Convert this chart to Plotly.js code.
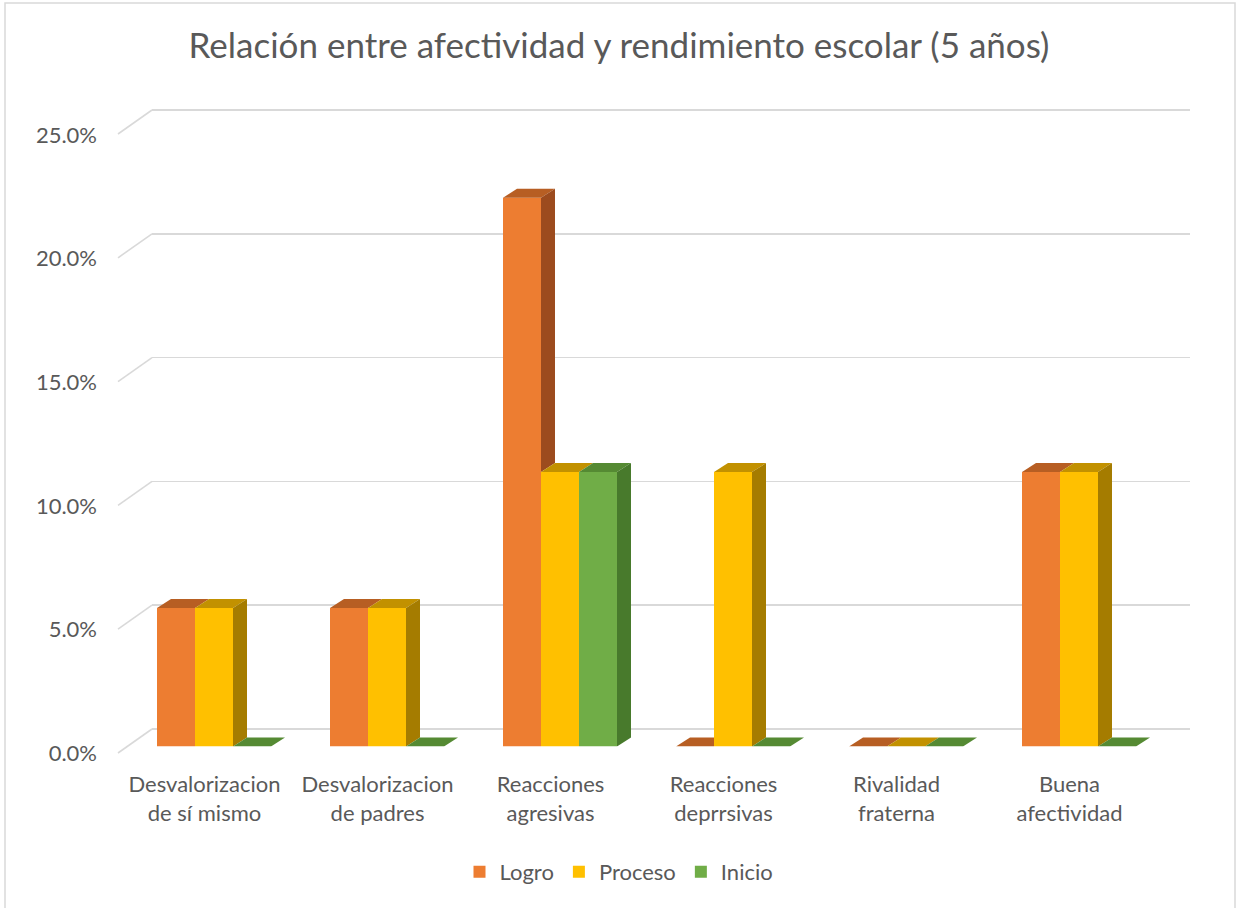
<!DOCTYPE html>
<html>
<head>
<meta charset="utf-8">
<script src="https://cdn.plot.ly/plotly-3.0.1.min.js"></script>
<style>html,body{margin:0;padding:0;background:#fff}#chart{width:1238px;height:908px}</style>
</head>
<body>
<div id="chart"></div>
<script>
// ---- data ----
const categories = ['Desvalorizacion<br>de sí mismo', 'Desvalorizacion<br>de padres', 'Reacciones<br>agresivas', 'Reacciones<br>deprrsivas', 'Rivalidad<br>fraterna', 'Buena<br>afectividad'];
const seriesNames = ['Logro', 'Proceso', 'Inicio'];
const logro = [5.6, 5.6, 22.2, 0, 0, 11.1];
const proceso = [5.6, 5.6, 11.1, 11.1, 0, 11.1];
const inicio = [0, 0, 11.1, 0, 0, 0];
const yTickVals = [0, 5, 10, 15, 20, 25];
const yTickText = ['0.0%', '5.0%', '10.0%', '15.0%', '20.0%', '25.0%'];

// ---- styles ----
const frontColors = ['#ED7D31', '#FFC000', '#70AD47'];
const topColors = ['#B75E23', '#C29100', '#558A33'];
const sideColors = ['#9C4B1E', '#A57C00', '#487A2C'];
const W = 1238, H = 908;
const px = x => x / W;
const py = y => 1 - y / H;
const textColor = '#595959';
const FONT = 'Lato, "Open Sans", sans-serif';

const values = [logro, proceso, inicio];
const barW = 38 / 173;          // bar width in category units
const dX = 14 / 173;            // depth offset x (category units)
const dY = 9 / 24.72;           // depth offset y (percent units)
const offsets = [-1.5 * barW, -0.5 * barW, 0.5 * barW];

const traces = [];
traces.push({type: 'scatter', x: [null], y: [null], xaxis: 'x', yaxis: 'y', showlegend: false, hoverinfo: 'skip'});
traces.push({type: 'scatter', x: categories, y: categories.map(() => null), xaxis: 'x2', yaxis: 'y2', showlegend: false, hoverinfo: 'skip'});
values.forEach((vals, k) => {
  traces.push({
    type: 'bar', name: seriesNames[k], x: categories, y: vals,
    xaxis: 'x3', yaxis: 'y3', width: barW, offset: offsets[k],
    marker: {color: frontColors[k], line: {width: 0}}
  });
});

const shapes = [];
shapes.push({type: 'rect', xref: 'paper', yref: 'paper', x0: px(5), x1: px(1235), y0: py(3), y1: py(912),
  line: {color: '#D9D9D9', width: 1.5}, fillcolor: 'rgba(0,0,0,0)', layer: 'below'});
// diagonal gridline segments (front plane -> back plane)
const diagY = 24 / 24.76;
yTickVals.forEach(t => {
  shapes.push({type: 'line', xref: 'paper', yref: 'y', x0: px(118), x1: px(152), y0: t - diagY, y1: t,
    line: {color: '#D9D9D9', width: 1.6}, layer: 'below'});
});
// 3D faces of bars
const poly = pts => 'M ' + pts.map(p => p[0] + ',' + p[1]).join(' L ') + ' Z';
categories.forEach((c, i) => {
  values.forEach((vals, k) => {
    const v = vals[i];
    const u = k < values.length - 1 ? values[k + 1][i] : 0;
    const x0 = i + offsets[k], x1 = x0 + barW;
    let topPts;
    if (k < values.length - 1 && u > v) {
      topPts = [[x0, v], [x1, v], [x1, v + dY], [x0 + dX, v + dY]];
    } else {
      topPts = [[x0, v], [x1, v], [x1 + dX, v + dY], [x0 + dX, v + dY]];
    }
    shapes.push({type: 'path', xref: 'x3', yref: 'y3', path: poly(topPts), fillcolor: topColors[k], line: {width: 0}, layer: 'above'});
    if (v > u) {
      const sidePts = [[x1, u], [x1, v], [x1 + dX, v + dY], [x1 + dX, u + dY]];
      shapes.push({type: 'path', xref: 'x3', yref: 'y3', path: poly(sidePts), fillcolor: sideColors[k], line: {width: 0}, layer: 'above'});
    }
  });
});

const hidden = {showgrid: false, zeroline: false, showline: false, showticklabels: false, ticks: ''};
const gridPx = 24.76;
const layout = {
  width: W, height: H,
  margin: {l: 0, r: 0, t: 0, b: 0},
  paper_bgcolor: '#FFFFFF', plot_bgcolor: 'rgba(0,0,0,0)',
  font: {family: FONT, color: textColor, size: 22},
  title: {text: 'Relación entre afectividad y rendimiento escolar (5 años)', font: {family: FONT, size: 35, color: textColor, weight: 400},
    x: 0.5, xanchor: 'center', y: py(46), yanchor: 'middle'},
  showlegend: true,
  legend: {orientation: 'h', x: 0.5, xanchor: 'center', y: py(872), yanchor: 'middle',
    font: {family: FONT, size: 22, color: textColor}, itemwidth: 30, traceorder: 'normal'},
  // back plane (gridlines)
  xaxis: Object.assign({}, hidden, {domain: [px(152), px(1190)], anchor: 'y', range: [0, 1]}),
  yaxis: Object.assign({}, hidden, {domain: [py(729 + 1.5 * gridPx), py(110 - 0.5 * gridPx)], anchor: 'x', range: [-1.5, 25.5], showgrid: true,
    tickvals: yTickVals, gridcolor: '#D9D9D9', gridwidth: 1.6}),
  // front plane (labels)
  xaxis2: Object.assign({}, hidden, {domain: [px(118), px(1156)], anchor: 'y2', type: 'category', categoryarray: categories,
    range: [-0.5, 5.5], showticklabels: true, tickfont: {family: FONT, size: 22, color: textColor}, ticklabelstandoff: 16}),
  yaxis2: Object.assign({}, hidden, {domain: [py(753), py(135)], anchor: 'x2', range: [0, 25], showticklabels: true,
    tickvals: yTickVals, ticktext: yTickText, tickfont: {family: FONT, size: 22, color: textColor}, ticklabelstandoff: 20}),
  // bars plane
  xaxis3: Object.assign({}, hidden, {domain: [px(127.5), px(1165.5)], anchor: 'y3', type: 'category', categoryarray: categories, range: [-0.5, 5.5]}),
  yaxis3: Object.assign({}, hidden, {domain: [py(746.5), py(128.5)], anchor: 'x3', range: [0, 25]}),
  barmode: 'overlay',
  shapes: shapes
};

Plotly.newPlot('chart', traces, layout, {displayModeBar: false, staticPlot: true});
</script>
</body>
</html>
